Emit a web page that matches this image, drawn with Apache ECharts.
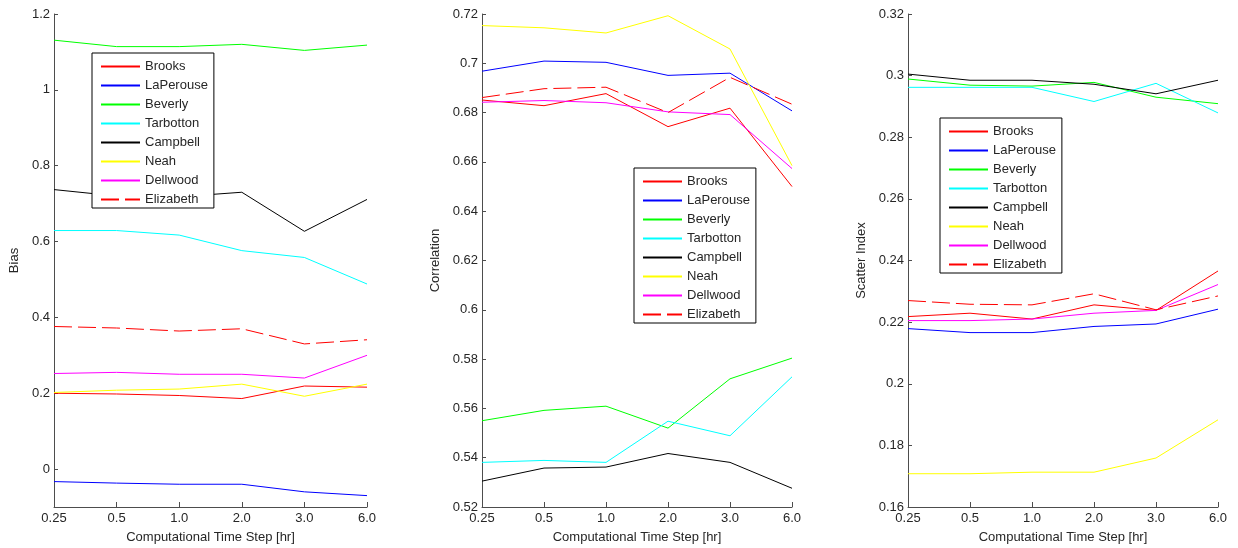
<!DOCTYPE html>
<html>
<head>
<meta charset="utf-8">
<script src="https://cdn.jsdelivr.net/npm/echarts@6/dist/echarts.min.js"></script>
<style>
  html, body { margin: 0; padding: 0; background: #fff; }
  #charts { width: 1238px; height: 548px; }
</style>
</head>
<body>
<div id="charts"></div>
<script>
// time steps shared by the three panels
var steps = ['0.25', '0.5', '1.0', '2.0', '3.0', '6.0'];
var stations = ['Brooks', 'LaPerouse', 'Beverly', 'Tarbotton', 'Campbell', 'Neah', 'Dellwood', 'Elizabeth'];
var colors = ['#ff0000', '#0000ff', '#00ff00', '#00ffff', '#000000', '#ffff00', '#ff00ff', '#ff0000'];

// Bias
var biasBrooks    = [0.200, 0.198, 0.194, 0.186, 0.219, 0.216];
var biasLaPerouse = [-0.033, -0.037, -0.040, -0.040, -0.060, -0.070];
var biasBeverly   = [1.131, 1.114, 1.114, 1.120, 1.104, 1.118];
var biasTarbotton = [0.629, 0.629, 0.617, 0.576, 0.558, 0.488];
var biasCampbell  = [0.737, 0.720, 0.718, 0.730, 0.627, 0.711];
var biasNeah      = [0.202, 0.208, 0.211, 0.224, 0.192, 0.224];
var biasDellwood  = [0.252, 0.255, 0.250, 0.250, 0.240, 0.300];
var biasElizabeth = [0.376, 0.372, 0.364, 0.370, 0.330, 0.341];
var biasTicks = [0, 0.2, 0.4, 0.6, 0.8, 1, 1.2];

// Correlation
var corBrooks    = [0.6851, 0.6828, 0.6877, 0.6743, 0.6818, 0.6500];
var corLaPerouse = [0.6968, 0.7009, 0.7004, 0.6951, 0.6960, 0.6807];
var corBeverly   = [0.5550, 0.5592, 0.5609, 0.5520, 0.5720, 0.5804];
var corTarbotton = [0.5381, 0.5389, 0.5381, 0.5548, 0.5489, 0.5728];
var corCampbell  = [0.5305, 0.5358, 0.5362, 0.5417, 0.5381, 0.5276];
var corNeah      = [0.7153, 0.7144, 0.7123, 0.7193, 0.7058, 0.6585];
var corDellwood  = [0.6842, 0.6849, 0.6840, 0.6803, 0.6792, 0.6573];
var corElizabeth = [0.6861, 0.6897, 0.6903, 0.6800, 0.6943, 0.6834];

// Scatter Index
var siBrooks    = [0.2218, 0.2229, 0.2210, 0.2256, 0.2238, 0.2366];
var siLaPerouse = [0.2179, 0.2166, 0.2166, 0.2186, 0.2194, 0.2242];
var siBeverly   = [0.2989, 0.2969, 0.2966, 0.2978, 0.2930, 0.2909];
var siTarbotton = [0.2962, 0.2962, 0.2962, 0.2916, 0.2975, 0.2879];
var siCampbell  = [0.3005, 0.2985, 0.2985, 0.2972, 0.2941, 0.2985];
var siNeah      = [0.1708, 0.1708, 0.1713, 0.1713, 0.1759, 0.1883];
var siDellwood  = [0.2205, 0.2205, 0.2210, 0.2229, 0.2238, 0.2322];
var siElizabeth = [0.2270, 0.2258, 0.2256, 0.2292, 0.2240, 0.2285];

var panels = [
  [biasBrooks, biasLaPerouse, biasBeverly, biasTarbotton, biasCampbell, biasNeah, biasDellwood, biasElizabeth],
  [corBrooks, corLaPerouse, corBeverly, corTarbotton, corCampbell, corNeah, corDellwood, corElizabeth],
  [siBrooks, siLaPerouse, siBeverly, siTarbotton, siCampbell, siNeah, siDellwood, siElizabeth]
];

var myChart = echarts.init(document.getElementById('charts'), null, { width: 1238, height: 548 });

var font = '"Liberation Sans", Arial, sans-serif';
var textColor = '#262626';
var axisColor = '#4d4d4d';

function xAxisFor(i) {
  return {
    type: 'category',
    gridIndex: i,
    data: steps,
    boundaryGap: false,
    name: 'Computational Time Step [hr]',
    nameLocation: 'middle',
    nameGap: 24,
    nameTextStyle: { fontFamily: font, fontSize: 13, color: textColor },
    axisLine: { onZero: false, lineStyle: { color: axisColor, width: 1 } },
    axisTick: { inside: true, length: 5, lineStyle: { color: axisColor } },
    axisLabel: { fontFamily: font, fontSize: 13, color: textColor, margin: 5, showMinLabel: true, showMaxLabel: true, interval: 0 },
    splitLine: { show: false }
  };
}

function yAxisFor(i, name, min, max, interval, gap) {
  var ax = {
    type: 'value',
    gridIndex: i,
    min: min,
    max: max,
    name: name,
    nameLocation: 'middle',
    nameGap: gap,
    nameTextStyle: { fontFamily: font, fontSize: 13, color: textColor },
    axisLine: { show: true, onZero: false, lineStyle: { color: axisColor, width: 1 } },
    axisTick: { show: true, inside: true, length: 4, lineStyle: { color: axisColor } },
    axisLabel: { fontFamily: font, fontSize: 13, color: textColor, margin: 4 },
    splitLine: { show: false }
  };
  if (interval) {
    ax.interval = interval;
  } else {
    ax.axisLabel.customValues = biasTicks;
    ax.axisTick.customValues = biasTicks;
  }
  return ax;
}

function legendFor(left, top) {
  return {
    orient: 'vertical',
    left: left,
    top: top,
    data: stations,
    backgroundColor: '#fff',
    borderColor: '#000',
    borderWidth: 1,
    borderRadius: 0,
    padding: [7, 6, 2, 8],
    itemWidth: 39,
    itemHeight: 14,
    itemGap: 6,
    itemStyle: { opacity: 0 },
    textStyle: { fontFamily: font, fontSize: 13, color: textColor },
    z: 10
  };
}

var series = [];
panels.forEach(function (panel, p) {
  panel.forEach(function (values, s) {
    series.push({
      name: stations[s],
      type: 'line',
      xAxisIndex: p,
      yAxisIndex: p,
      data: values,
      symbol: 'none',
      lineStyle: { color: colors[s], width: 1, type: s === 7 ? [18, 6] : 'solid' },
      itemStyle: { color: colors[s] }
    });
  });
});

var option = {
  animation: false,
  backgroundColor: '#fff',
  grid: [
    { left: 54, right: 871, top: 14, bottom: 41, outerBoundsMode: 'none' },
    { left: 482, right: 446, top: 14, bottom: 41, outerBoundsMode: 'none' },
    { left: 908, right: 20, top: 14, bottom: 41, outerBoundsMode: 'none' }
  ],
  xAxis: [xAxisFor(0), xAxisFor(1), xAxisFor(2)],
  yAxis: [
    yAxisFor(0, 'Bias', -0.1, 1.2, null, 33),
    yAxisFor(1, 'Correlation', 0.52, 0.72, 0.02, 40),
    yAxisFor(2, 'Scatter Index', 0.16, 0.32, 0.02, 40)
  ],
  legend: [legendFor(92, 53), legendFor(634, 168), legendFor(940, 118)],
  series: series
};

myChart.setOption(option);
</script>
</body>
</html>
